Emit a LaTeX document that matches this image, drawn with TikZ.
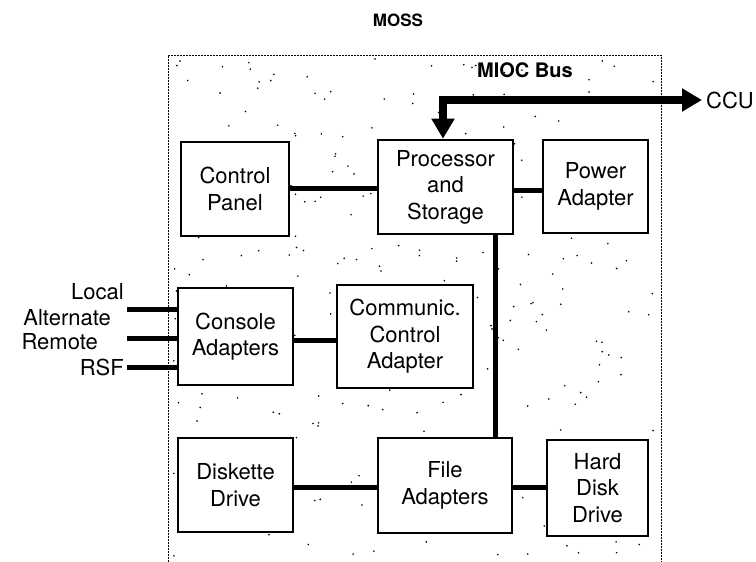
\documentclass[tikz,border=0pt]{standalone}
\usepackage{fontspec}
\setmainfont{TeX Gyre Heros}
\usetikzlibrary{arrows.meta}
\tikzset{
  blk/.style={draw, line width=2.6pt, fill=white, align=center, inner sep=0pt,
    font=\fontsize{22}{26.5}\selectfont},
  lnk/.style={line width=5pt},
  bus/.style={line width=8pt, line join=miter},
  lbl/.style={inner sep=0pt, font=\fontsize{22}{26}\selectfont},
  frame/.style={line width=0.8pt, dash pattern=on 2pt off 1pt},
}
\begin{document}
\begin{tikzpicture}[x=1pt,y=-1pt]
\useasboundingbox (0,0) rectangle (756,562);
% stipple
\pgfmathsetseed{11}
\foreach \i in {1,...,300}{
  \fill ({171+487*rnd},{58+500*rnd}) circle (0.9pt);
}
% outer frame
\draw[frame] (168,562) -- (168,55) -- (661,55) -- (661,562);
% titles
\node[font=\bfseries\fontsize{17}{19}\selectfont] (title) at (398,20) {MOSS};
\node[font=\bfseries\fontsize{20}{22}\selectfont, anchor=west, inner sep=0pt] (mioc) at (477,70) {MIOC Bus};
% blocks
\node[blk, minimum width=108pt, minimum height=94pt] (cp) at (235,189) {Control\\Panel};
\node[blk, minimum width=135pt, minimum height=94pt] (ps) at (445.5,187) {Processor\\and\\Storage};
\node[blk, minimum width=105pt, minimum height=93pt] (pa) at (595.5,186.5) {Power\\Adapter};
\node[blk, minimum width=115pt, minimum height=97pt] (ca) at (235.5,336.5) {Console\\Adapters};
\node[blk, minimum width=136pt, minimum height=103pt] (cc) at (405,336.5) {Communic.\\Control\\Adapter};
\node[blk, minimum width=115pt, minimum height=94pt] (dd) at (235.5,485) {Diskette\\Drive};
\node[blk, minimum width=134pt, minimum height=95pt] (fa) at (445,485.5) {File\\Adapters};
\node[blk, minimum width=101pt, minimum height=96pt] (hd) at (597.5,488) {Hard\\Disk\\Drive};
% links
\draw[lnk] (cp.east |- 0,188) -- (ps.west |- 0,188);
\draw[lnk] (ps.east |- 0,190) -- (pa.west |- 0,190);
\draw[lnk] (ca.east |- 0,340) -- (cc.west |- 0,340);
\draw[lnk] (dd.east |- 0,487) -- (fa.west |- 0,487);
\draw[lnk] (fa.east |- 0,487) -- (hd.west |- 0,487);
\draw[lnk] (ps.south -| 495,0) -- (fa.north -| 495,0);
% bus
\coordinate (busc) at (443,100);
\coordinate (ccutip) at (702,100);
\draw[bus, {Triangle[length=20pt,width=22pt]}-{Triangle[length=20pt,width=22pt]}]
  (ps.north -| busc) -- (busc) -- (ccutip);
\node[lbl, anchor=west] (ccu) at (706,100) {CCU};
% inputs
\coordinate (in1) at (127,309);
\coordinate (in2) at (127,338);
\coordinate (in3) at (127,367);
\draw[lnk] (in1) -- (ca.west |- in1);
\draw[lnk] (in2) -- (ca.west |- in2);
\draw[lnk] (in3) -- (ca.west |- in3);
\node[lbl, anchor=east] (l1) at (124,292) {Local};
\node[lbl, anchor=east] (l2) at (111,318) {Alternate};
\node[lbl, anchor=east] (l3) at (98,342) {Remote};
\node[lbl, anchor=east] (l4) at (124,367) {RSF};
\end{tikzpicture}
\end{document}
